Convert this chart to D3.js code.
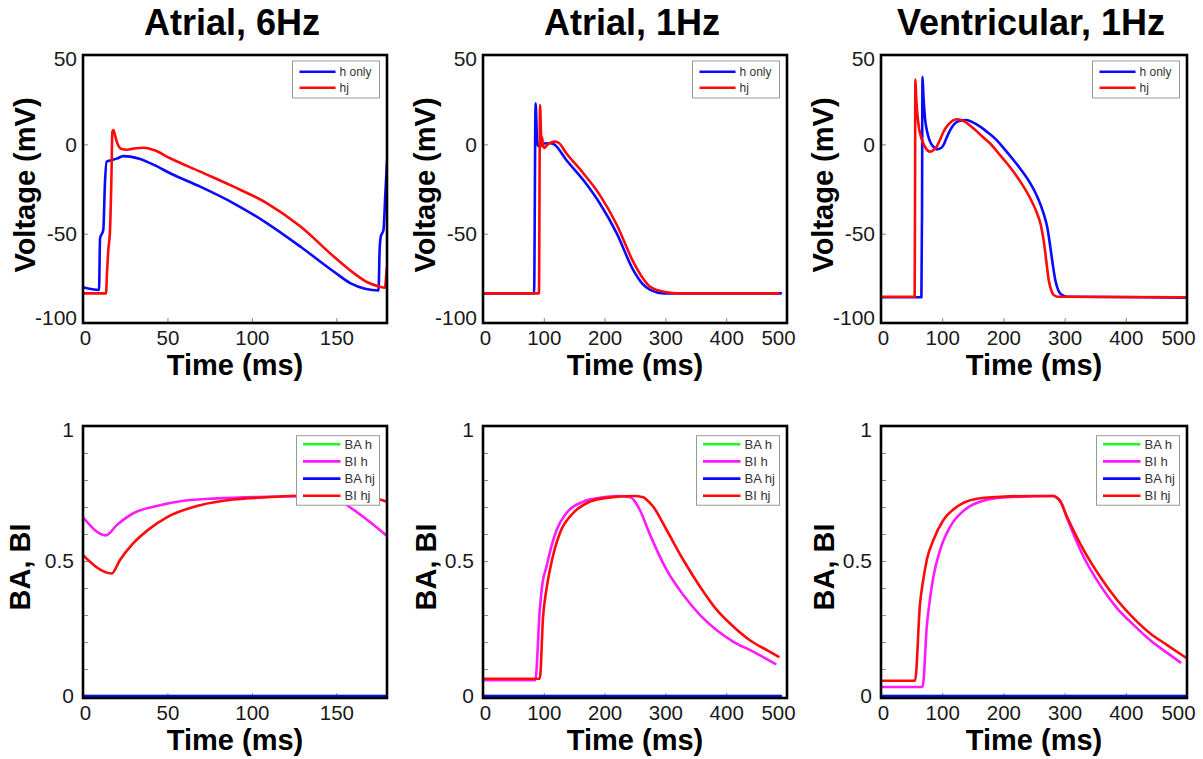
<!DOCTYPE html>
<html><head><meta charset="utf-8">
<script src="https://cdn.jsdelivr.net/npm/d3@7"></script>
<style>
html,body{margin:0;padding:0;background:#fff;}
svg{display:block;font-family:"Liberation Sans",Arial,Helvetica,sans-serif;}
</style></head>
<body><svg id="chart" width="1203" height="759"></svg>
<script>
// ---------------- DATA ----------------
const titles = ["Atrial, 6Hz", "Atrial, 1Hz", "Ventricular, 1Hz"];
const voltageTicks = [-100, -50, 0, 50];
const baTicks = [0, 0.5, 1];
const baMinorTicks = [0, 0.1, 0.2, 0.3, 0.4, 0.5, 0.6, 0.7, 0.8, 0.9, 1];
const time6Ticks = [0, 50, 100, 150];
const time1Ticks = [0, 100, 200, 300, 400, 500];
const timeMax = [180, 500, 500];

const topLegend = ["h only", "hj"];
const botLegend = ["BA h", "BI h", "BA hj", "BI hj"];

// Voltage (mV) vs time (ms)
const a6_h_only = [[0,-80],[9.5,-81.5],[10.1,-52.6],[12,-48],[13,-21.6],[14,-9.7],[17,-8.8],[20,-8],[23.9,-6.6],[28,-6.9],[33.8,-8.2],[42,-11.5],[51.6,-16.2],[69.4,-23.7],[89.2,-33],[109,-44.2],[128.8,-57.3],[148.6,-71.3],[158.5,-77.8],[167,-80.8],[175,-81.8],[175.6,-60],[176.3,-51.7],[177.9,-48],[179,-28],[180,-9.7]];
const a6_hj     = [[0,-83.4],[13.6,-83.4],[14.3,-70],[15,-59],[16,-48],[16.8,-20],[17.4,7],[18,8],[19,5],[20.3,0.6],[22.9,-2.6],[26,-3],[30,-2.4],[36,-1.9],[42,-3.2],[51.6,-7.8],[69.4,-15.3],[89.2,-23.7],[109,-33],[128.8,-46],[148.6,-62.9],[160.5,-72.2],[168.4,-77.2],[175,-79.5],[178.8,-80.3],[179.4,-75],[180,-68.5]];
const a1_h_only = [[0,-83.4],[84,-83.4],[86.5,23],[89,2],[91,-1],[95,-0.5],[100,0.5],[110,0.6],[117,0],[137,-8.8],[165,-20],[192,-33],[220,-49.8],[247,-70.3],[262,-78],[275,-81.5],[297,-83.4],[490,-83.4]];
const a1_hj     = [[0,-83.4],[92,-83.4],[93.8,22],[95.5,5],[96.3,-1],[97.3,4],[98.5,-0.5],[101,-2],[105,-0.5],[112,1],[118,1.5],[124,1],[137,-5],[165,-16.2],[192,-28.3],[220,-45],[247,-65.7],[262,-74.5],[275,-79.7],[302,-82.8],[320,-83.4],[486,-83.4]];
const v1_h_only = [[0,-85.6],[66,-85.6],[67,-40],[67.8,37.8],[69.5,26],[71.8,15],[74.8,8],[79,2.5],[85.5,-1.3],[91,-2.8],[97,-2.3],[102,-0.4],[107,3.5],[113,8],[120,11.5],[129,13.2],[139.7,13.6],[150,12.3],[162,9.9],[175,6.5],[189,2.4],[202,-2.8],[216.5,-8.8],[230,-14.8],[244,-21.8],[255,-29],[265.6,-38.6],[272,-47],[276.6,-57.3],[281,-68],[284.8,-75.9],[290,-82],[295.7,-84.3],[305,-85.3],[430,-85.6],[500,-85.9]];
const v1_hj     = [[0,-85.3],[55,-85.3],[55.6,-30],[56.2,36.4],[57.5,26],[61,11.8],[66.4,3],[72,-1.5],[80.2,-4.1],[86,-3.2],[91,-1.3],[97,3],[102,7],[110,11],[118,13.4],[125,14],[135,13],[151,9],[165,4.5],[178,0.6],[192,-5],[205.7,-10.6],[220,-17],[233,-23.7],[245,-31],[255,-38.6],[261,-45],[265.6,-53.5],[270,-65],[274,-75.9],[278,-81.5],[282,-84.3],[290,-85.3],[500,-85.6]];

// BA, BI vs time (ms)
const a6_ba_h  = [[0,0],[180,0]];
const a6_bi_h  = [[0,0.662],[13.6,0.595],[20,0.633],[29.8,0.677],[43.7,0.704],[59.5,0.723],[79.3,0.732],[109,0.738],[138.7,0.741],[148.6,0.736],[154.5,0.714],[168.4,0.652],[180,0.593]];
const a6_ba_hj = [[0,0],[180,0]];
const a6_bi_hj = [[0,0.522],[17,0.454],[21.9,0.504],[29.8,0.566],[39.7,0.621],[49.6,0.662],[69.4,0.707],[89.2,0.728],[109,0.736],[128.8,0.742],[148.6,0.741],[168.4,0.736],[180,0.72]];

const a1_ba_h  = [[0,0],[490,0]];
const a1_bi_h  = [[0,0.059],[86,0.059],[93.4,0.319],[98,0.42],[104.4,0.479],[112,0.55],[121,0.615],[137,0.677],[165,0.72],[192,0.734],[220,0.741],[242,0.736],[250,0.72],[258,0.689],[275,0.596],[302,0.467],[329.5,0.374],[357,0.3],[384.5,0.244],[412,0.201],[445,0.164],[481,0.119]];
const a1_ba_hj = [[0,0],[490,0]];
const a1_bi_hj = [[0,0.064],[93.4,0.064],[98.8,0.294],[104,0.39],[110,0.467],[118,0.545],[126.4,0.603],[148,0.677],[176,0.72],[203,0.734],[247,0.741],[263.6,0.736],[270,0.725],[280,0.701],[302,0.615],[329.5,0.504],[357,0.405],[384.5,0.319],[412,0.257],[439,0.207],[467,0.17],[486,0.146]];

const v1_ba_h  = [[0,0],[500,0]];
const v1_bi_h  = [[0,0.034],[68,0.034],[74.8,0.257],[80,0.36],[85.6,0.442],[96.6,0.541],[113,0.627],[140,0.695],[167,0.723],[206,0.736],[282,0.741],[287,0.735],[293,0.723],[304,0.658],[331,0.516],[358,0.411],[385.8,0.325],[413,0.263],[440,0.207],[467.6,0.16],[489,0.125]];
const v1_ba_hj = [[0,0],[500,0]];
const v1_bi_hj = [[0,0.057],[55.6,0.057],[63.8,0.343],[69,0.43],[74.8,0.504],[85.6,0.578],[102,0.652],[124,0.701],[151,0.728],[195,0.738],[249,0.741],[282,0.741],[287,0.735],[293,0.72],[304,0.664],[331,0.541],[358,0.442],[385.8,0.356],[413,0.288],[440,0.232],[467.6,0.189],[497.6,0.143]];

// ---------------- STYLE / LAYOUT ----------------
const C = {blue:"#0a0aff", red:"#ff0a0a", magenta:"#ff1aff", green:"#1aff1a"};
const colX = [[83,387],[483,787],[881,1187]];
const topY = [55,323], botY = [426,698];

const svg = d3.select("#chart");

const topSeries = [[a6_h_only,a6_hj],[a1_h_only,a1_hj],[v1_h_only,v1_hj]];
const botSeries = [[a6_ba_h,a6_bi_h,a6_ba_hj,a6_bi_hj],[a1_ba_h,a1_bi_h,a1_ba_hj,a1_bi_hj],[v1_ba_h,v1_bi_h,v1_ba_hj,v1_bi_hj]];
const topColors = [C.blue, C.red];
const botColors = [C.green, C.magenta, C.blue, C.red];
const botYLabelOff = [-53,-47,-47];
const fmt = d => String(d);

function panel(i, row) {
  const [x0,x1] = colX[i];
  const [y0,y1] = row===0 ? topY : botY;
  const x = d3.scaleLinear().domain([0,timeMax[i]]).range([x0,x1]);
  const y = row===0 ? d3.scaleLinear().domain([-100,50]).range([y1,y0])
                    : d3.scaleLinear().domain([-0.007,1]).range([y1,y0]);
  const g = svg.append("g");
  const clipId = "clip"+i+"_"+row;
  svg.append("clipPath").attr("id",clipId).append("rect")
     .attr("x",x0).attr("y",y0).attr("width",x1-x0).attr("height",y1-y0);

  // x axis (inward ticks)
  const xt = i===0 ? time6Ticks : time1Ticks;
  const xa = g.append("g").attr("transform",`translate(0,${y1})`)
    .call(d3.axisBottom(x).tickValues(xt).tickSize(-5).tickPadding(7).tickFormat(fmt));
  xa.select(".domain").remove();
  xa.selectAll(".tick line").attr("stroke","#888").attr("stroke-width",1);
  xa.selectAll(".tick text").attr("font-size",20.5).attr("fill","#1a1a1a")
    .attr("font-family","'Liberation Sans',Arial,sans-serif")
    .attr("dx",d => d===0 ? 2 : (d===500 ? -9 : 0));

  // y axis
  let ya;
  if (row===0) {
    ya = g.append("g").attr("transform",`translate(${x0},0)`)
      .call(d3.axisLeft(y).tickValues(voltageTicks).tickSize(-5).tickPadding(6).tickFormat(fmt));
    ya.selectAll(".tick text").attr("dy",d => d===50 ? "0.5em" : (d===-100 ? "0.08em" : "0.32em"));
  } else {
    const ym = g.append("g").attr("transform",`translate(${x0},0)`)
      .call(d3.axisLeft(y).tickValues(baMinorTicks).tickSize(-5).tickFormat(""));
    ym.select(".domain").remove();
    ym.selectAll(".tick line").attr("stroke","#888").attr("stroke-width",1);
    ya = g.append("g").attr("transform",`translate(${x0},0)`)
      .call(d3.axisLeft(y).tickValues(baTicks).tickSize(0).tickPadding(9).tickFormat(fmt));
    ya.selectAll(".tick text").attr("dy",d => d===1 ? "0.52em" : "0.32em");
  }
  ya.select(".domain").remove();
  ya.selectAll(".tick line").attr("stroke","#888").attr("stroke-width",1);
  ya.selectAll(".tick text").attr("font-size",21).attr("fill","#1a1a1a")
    .attr("font-family","'Liberation Sans',Arial,sans-serif");

  // lines
  const line = d3.line().x(d=>x(d[0])).y(d=>y(d[1])).curve(d3.curveMonotoneX);
  const series = row===0 ? topSeries[i] : botSeries[i];
  const colors = row===0 ? topColors : botColors;
  const lg = g.append("g").attr("clip-path",`url(#${clipId})`);
  series.forEach((s,k)=>{
    lg.append("path").datum(s).attr("d",line).attr("fill","none")
      .attr("stroke",colors[k]).attr("stroke-width",2.6)
      .attr("stroke-linejoin","round").attr("stroke-linecap","round");
  });

  // frame
  g.append("rect").attr("x",x0).attr("y",y0).attr("width",x1-x0).attr("height",y1-y0)
    .attr("fill","none").attr("stroke","#000").attr("stroke-width",2.6);

  // legend
  const labels = row===0 ? topLegend : botLegend;
  const lw = row===0 ? 87 : 83;
  const rowH = row===0 ? 16 : 17.2;
  const lh = row===0 ? 37 : 69.5;
  const lx = x1 - 7.5 - lw, ly = y0 + (row===0 ? 6 : 9.7);
  const leg = g.append("g");
  leg.append("rect").attr("x",lx).attr("y",ly).attr("width",lw).attr("height",lh)
    .attr("fill","#fff").attr("stroke","#999").attr("stroke-width",1);
  labels.forEach((lab,k)=>{
    const yy = ly + (row===0 ? 10.7 : 8.5) + k*rowH;
    leg.append("line").attr("x1",lx+(row===0?7:6.5)).attr("x2",lx+(row===0?43:44))
      .attr("y1",yy).attr("y2",yy).attr("stroke",colors[k]).attr("stroke-width",2.6);
    leg.append("text").attr("x",lx+(row===0?47:48)).attr("y",yy).attr("dy","0.35em")
      .attr("font-size",row===0?12:13).attr("fill","#333").text(lab);
  });

  // axis titles
  g.append("text").attr("x",(x0+x1)/2).attr("y",row===0?375:750).attr("text-anchor","middle")
    .attr("font-size",29).attr("font-weight","bold").attr("fill","#000").text("Time (ms)");
  const yl = row===0 ? "Voltage (mV)" : "BA, BI";
  const ycx = x0 + (row===0 ? -48 : botYLabelOff[i]);
  const ycy = row===0 ? 185 : 567;
  g.append("text").attr("transform",`translate(${ycx},${ycy}) rotate(-90)`).attr("text-anchor","middle")
    .attr("font-size",29).attr("font-weight","bold").attr("fill","#000").text(yl);

  if (row===0) {
    g.append("text").attr("x",(x0+x1)/2-3).attr("y",35).attr("text-anchor","middle")
      .attr("font-size",36).attr("font-weight","bold").attr("fill","#000").text(titles[i]);
  }
}
for (let i=0;i<3;i++){ panel(i,0); panel(i,1); }
</script></body></html>
